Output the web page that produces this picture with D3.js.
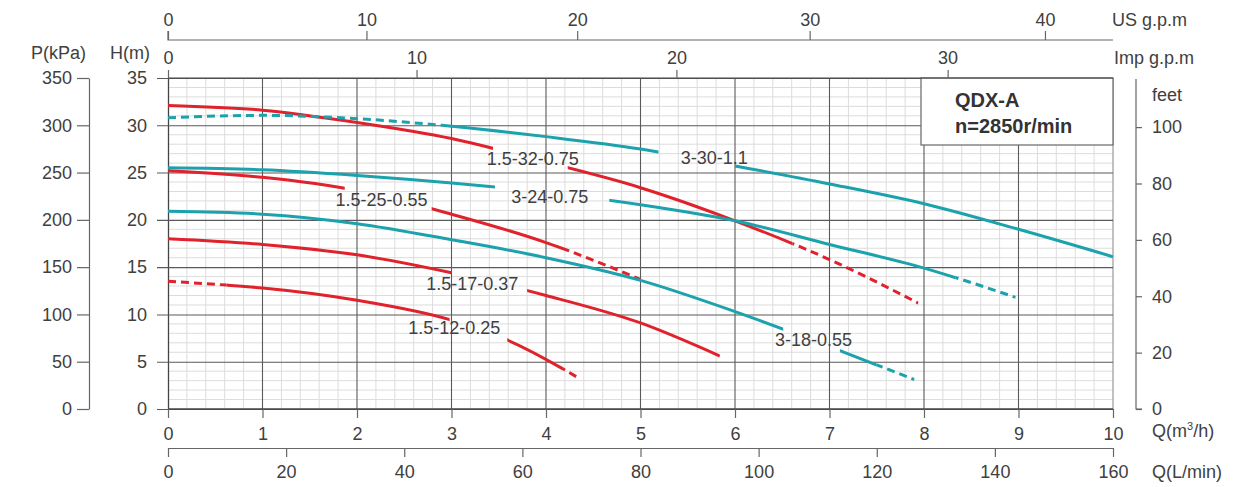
<!DOCTYPE html>
<html>
<head>
<meta charset="utf-8">
<script src="https://cdn.jsdelivr.net/npm/d3@7"></script>
<style>
body { margin: 0; background: #fff; }
text { font-family: "Liberation Sans", Arial, sans-serif; fill: #404040; }
</style>
</head>
<body>
<div id="chart"></div>
<script>
// flow Q in m3/h, head H in m
var qTicks = [0, 1, 2, 3, 4, 5, 6, 7, 8, 9, 10];
var hTicks = [0, 5, 10, 15, 20, 25, 30, 35];
var pTicks = [0, 50, 100, 150, 200, 250, 300, 350];
var ftTicks = [0, 20, 40, 60, 80, 100];
var lminTicks = [0, 20, 40, 60, 80, 100, 120, 140, 160];
var usGpmTicks = [0, 10, 20, 30, 40];
var usGpmAtQ = [0, 2.1, 4.33, 6.79, 9.28];     // where the printed ticks sit on the Q scale
var impGpmTicks = [0, 10, 20, 30];
var impGpmAtQ = [0, 2.63, 5.38, 8.25];
var ftPerM = 3.355;

var curveNames = ["1.5-32-0.75", "3-30-1.1", "3-24-0.75", "1.5-25-0.55", "3-18-0.55", "1.5-17-0.37", "1.5-12-0.25"];

var h_15_32 = [[0, 32.1], [1, 31.6], [2, 30.3], [3, 28.6], [4, 26.1], [5, 23.4], [6, 19.9], [7, 15.8], [7.94, 11.2]];
var h_3_30 = [[0, 30.8], [1, 31.05], [2, 30.7], [3, 29.9], [4, 28.8], [5, 27.5], [6, 25.7], [7, 23.8], [8, 21.7], [9, 19.0], [10, 16.1]];
var h_3_24 = [[0, 25.5], [1, 25.3], [2, 24.7], [3, 23.9], [4, 22.9], [5, 21.6], [6, 19.9], [7, 17.4], [8, 14.9], [8.97, 11.8]];
var h_15_25 = [[0, 25.2], [1, 24.5], [2, 23.1], [3, 20.6], [4, 17.6], [5, 13.7]];
var h_3_18 = [[0, 20.9], [1, 20.6], [2, 19.6], [3, 17.9], [4, 16.0], [5, 13.6], [6, 10.3], [7, 6.6], [7.9, 3.1]];
var h_15_17 = [[0, 18.0], [1, 17.4], [2, 16.3], [3, 14.4], [4, 12.0], [5, 9.1], [5.84, 5.6]];
var h_15_12 = [[0, 13.5], [0.62, 13.1], [1, 12.8], [2, 11.5], [3, 9.4], [3.59, 7.3], [4.17, 4.3], [4.34, 3.3]];

// Q ranges drawn solid / dashed (the rest is the gap left for the label)
var solidQ = [[[0, 3.44], [4.23, 6.61]], [[2.9, 5.19], [6.0, 10]], [[0, 3.46], [4.67, 8.33]],
  [[0, 1.87], [2.79, 4.18]], [[0, 6.51], [7.11, 7.5]], [[0, 3.0], [3.8, 5.84]], [[0.62, 2.98], [3.59, 4.17]]];
var dashQ = [[[6.61, 7.94]], [[0, 2.9]], [[8.33, 8.97]], [[4.18, 5.0]], [[7.5, 7.9]], [], [[0, 0.62], [4.17, 4.34]]];
var labelQ = [3.86, 5.78, 4.04, 2.26, 6.83, 3.22, 3.03];
var labelH = [26.5, 26.6, 22.5, 22.1, 7.3, 13.2, 8.6];

var curveData = [h_15_32, h_3_30, h_3_24, h_15_25, h_3_18, h_15_17, h_15_12];

var red = "#e0222c", teal = "#1ca2ad";
var colors = [red, teal, teal, red, teal, red, red];

var W = 1255, H = 487;
var plotL = 168, plotR = 1113, plotT = 78, plotB = 409;

var svg = d3.select("#chart").append("svg").attr("width", W).attr("height", H);

var x = d3.scaleLinear().domain([0, 10]).range([plotL, plotR]);
var y = d3.scaleLinear().domain([0, 35]).range([plotB, plotT]);
var yP = d3.scaleLinear().domain([0, 350]).range([plotB, plotT]);
var yFt = d3.scaleLinear().domain([0, 35 * ftPerM]).range([plotB, plotT]);
var xL = d3.scaleLinear().domain([0, 160]).range([plotL, plotR]);
var xUs = d3.scaleLinear().domain(usGpmTicks).range(usGpmAtQ.map(x));
var xImp = d3.scaleLinear().domain(impGpmTicks).range(impGpmAtQ.map(x));

// grid
var grid = svg.append("g");
grid.selectAll(".vminor").data(d3.range(0, 50).map(function (i) { return i / 5; }).filter(function (q) { return q % 1 !== 0; }))
  .enter().append("line")
  .attr("x1", function (d) { return x(d); }).attr("x2", function (d) { return x(d); })
  .attr("y1", plotT).attr("y2", plotB)
  .attr("stroke", "#dcdcdc").attr("stroke-width", 1);
grid.selectAll(".hminor").data(d3.range(1, 35).filter(function (h) { return h % 5 !== 0; }))
  .enter().append("line")
  .attr("x1", plotL).attr("x2", plotR)
  .attr("y1", function (d) { return y(d); }).attr("y2", function (d) { return y(d); })
  .attr("stroke", "#dcdcdc").attr("stroke-width", 1);
grid.selectAll(".vmajor").data(qTicks.slice(1, 10))
  .enter().append("line")
  .attr("x1", function (d) { return x(d); }).attr("x2", function (d) { return x(d); })
  .attr("y1", plotT).attr("y2", plotB)
  .attr("stroke", "#5a5a5a").attr("stroke-width", 1.1);
grid.append("line").attr("x1", plotR).attr("x2", plotR).attr("y1", plotT).attr("y2", plotB)
  .attr("stroke", "#999").attr("stroke-width", 1.2);

// H axis: major horizontal lines run out to the left as ticks
var hAxis = svg.append("g").attr("transform", "translate(" + plotL + ",0)")
  .call(d3.axisLeft(y).tickValues(hTicks).tickSize(11).tickPadding(10).tickSizeOuter(0));
hAxis.select(".domain").attr("stroke", "#444").attr("stroke-width", 1.3);
hAxis.selectAll(".tick line").attr("x2", plotR - plotL).attr("x1", -11)
  .attr("stroke", "#5a5a5a").attr("stroke-width", 1.1);
hAxis.selectAll("text").attr("font-size", 18).attr("font-family", null);

// title box
svg.append("rect").attr("x", 921).attr("y", plotT).attr("width", plotR - 921).attr("height", 67)
  .attr("fill", "#fff").attr("stroke", "#666").attr("stroke-width", 1.2);
svg.append("text").attr("x", 955).attr("y", 107).attr("font-size", 20).attr("font-weight", "bold")
  .style("fill", "#333").text("QDX-A");
svg.append("text").attr("x", 955).attr("y", 133).attr("font-size", 20).attr("font-weight", "bold")
  .style("fill", "#333").text("n=2850r/min");

// curves
var line = d3.line().x(function (d) { return x(d[0]); }).y(function (d) { return y(d[1]); })
  .curve(d3.curveMonotoneX);
var defs = svg.append("defs");

function addClip(id, ranges) {
  var cp = defs.append("clipPath").attr("id", id);
  ranges.forEach(function (r) {
    cp.append("rect").attr("x", x(r[0])).attr("width", x(r[1]) - x(r[0]))
      .attr("y", plotT - 10).attr("height", plotB - plotT + 20);
  });
}

var curves = svg.append("g");
curveData.forEach(function (pts, i) {
  addClip("solid" + i, solidQ[i]);
  addClip("dash" + i, dashQ[i]);
  curves.append("path").attr("d", line(pts)).attr("fill", "none")
    .attr("stroke", colors[i]).attr("stroke-width", 3)
    .attr("clip-path", "url(#solid" + i + ")");
  curves.append("path").attr("d", line(pts)).attr("fill", "none")
    .attr("stroke", colors[i]).attr("stroke-width", 3)
    .attr("stroke-dasharray", "8,5")
    .attr("clip-path", "url(#dash" + i + ")");
});

svg.append("g").selectAll("text").data(curveNames).enter().append("text")
  .attr("x", function (d, i) { return x(labelQ[i]); })
  .attr("y", function (d, i) { return y(labelH[i]); })
  .attr("dy", "0.35em").attr("text-anchor", "middle").attr("font-size", 18)
  .text(function (d) { return d; });

function styleAxis(g) {
  g.selectAll("text").attr("font-size", 18).attr("font-family", null);
  g.selectAll(".tick line").attr("stroke", "#666").attr("stroke-width", 1.2);
  g.select(".domain").attr("stroke", "#666").attr("stroke-width", 1.2);
}

// plot frame bottom
svg.append("line").attr("x1", plotL).attr("x2", plotR).attr("y1", plotB).attr("y2", plotB)
  .attr("stroke", "#444").attr("stroke-width", 1.4);

// P axis
var pAxis = svg.append("g").attr("transform", "translate(89,0)")
  .call(d3.axisLeft(yP).tickValues(pTicks).tickSize(12).tickPadding(5).tickSizeOuter(0));
styleAxis(pAxis);

// feet axis
var ftAxis = svg.append("g").attr("transform", "translate(1136,0)")
  .call(d3.axisRight(yFt).tickValues(ftTicks).tickSize(6).tickPadding(10).tickSizeOuter(0));
styleAxis(ftAxis);
ftAxis.select(".domain").attr("d", "M0," + (plotT + 1) + "V" + plotB + "H6");

// Q axis
var qAxis = svg.append("g").attr("transform", "translate(0," + plotB + ")")
  .call(d3.axisBottom(x).tickValues(qTicks).tickSize(9).tickPadding(9).tickSizeOuter(0));
styleAxis(qAxis);
qAxis.select(".domain").remove();

// L/min axis
var lAxis = svg.append("g").attr("transform", "translate(0,448)")
  .call(d3.axisBottom(xL).tickValues(lminTicks).tickSize(9).tickPadding(8).tickSizeOuter(0));
styleAxis(lAxis);

// US gpm axis
var usAxis = svg.append("g").attr("transform", "translate(0,40)")
  .call(d3.axisTop(xUs).tickValues(usGpmTicks).tickSize(9).tickPadding(5).tickSizeOuter(0));
styleAxis(usAxis);
usAxis.select(".domain").attr("d", "M" + plotL + ",-9V0H" + plotR);

// Imp gpm axis
var impAxis = svg.append("g").attr("transform", "translate(0," + plotT + ")")
  .call(d3.axisTop(xImp).tickValues(impGpmTicks).tickSize(8).tickPadding(6).tickSizeOuter(0));
styleAxis(impAxis);
impAxis.select(".domain").attr("d", "M" + plotL + ",0H" + plotR).attr("stroke", "#444");

// axis titles
var titles = [
  ["P(kPa)", 31, 59], ["H(m)", 110, 59], ["US g.p.m", 1112, 26], ["Imp g.p.m", 1114, 64],
  ["feet", 1152, 101], ["Q(L/min)", 1152, 478]
];
svg.append("g").selectAll("text").data(titles).enter().append("text")
  .attr("x", function (d) { return d[1]; }).attr("y", function (d) { return d[2]; })
  .attr("font-size", 18).text(function (d) { return d[0]; });
var qt = svg.append("text").attr("x", 1152).attr("y", 437).attr("font-size", 18);
qt.append("tspan").text("Q(m");
qt.append("tspan").attr("font-size", 11).attr("dy", -7).text("3");
qt.append("tspan").attr("dy", 7).text("/h)");
</script>
</body>
</html>
